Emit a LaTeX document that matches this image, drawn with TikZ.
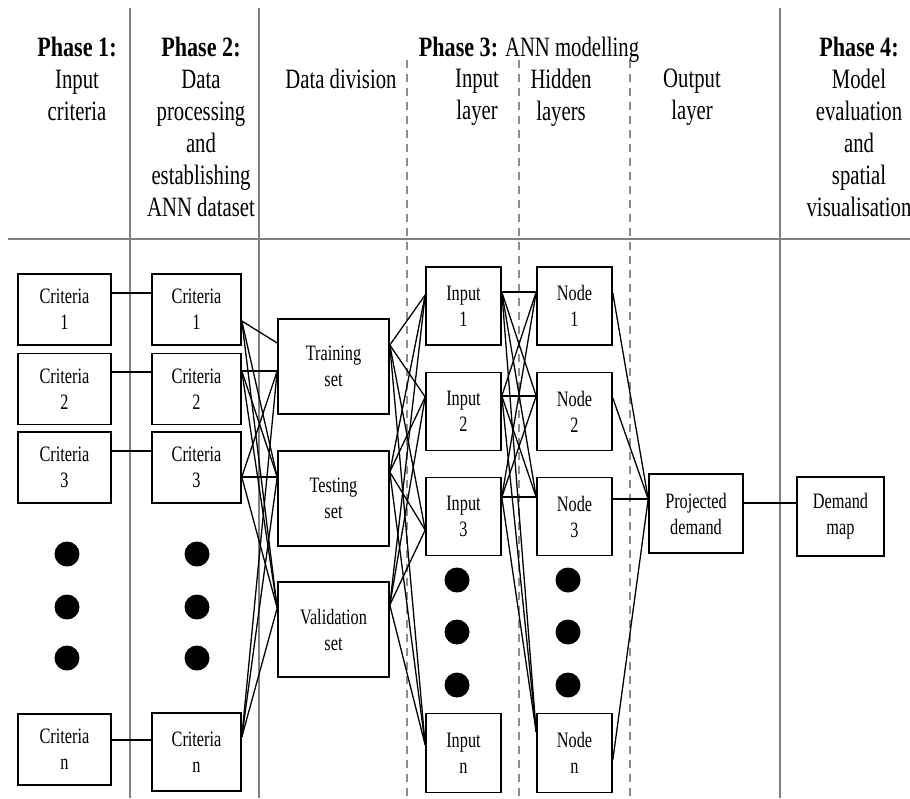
\documentclass[tikz,border=0pt]{standalone}
\usepackage{fontspec}
\setmainfont{Liberation Serif}[FakeStretch=0.74, BoldFeatures={FakeStretch=0.79}]
\usetikzlibrary{calc}
\begin{document}
\begin{tikzpicture}[x=1pt,y=-1pt,
  sep/.style={draw=black!50, line width=1.2pt},
  dsep/.style={draw=black!45, line width=1.1pt, dash pattern=on 8pt off 6pt},
  hdr/.style={align=center, inner sep=0pt, font=\fontsize{28}{32}\selectfont},
  box/.style={draw=black, line width=1.6pt, align=center, inner sep=0pt,
    font=\fontsize{22}{26}\selectfont},
  conn/.style={draw=black, line width=1.3pt},
  blob/.style={circle, fill=black, minimum size=25pt, inner sep=0pt}]
\useasboundingbox (0,0) rectangle (910,798);
\fill[white] (0,0) rectangle (910,798);
% separators
\draw[sep] (130,8) -- (130,798);
\draw[sep] (259,8) -- (259,798);
\draw[sep] (780,8) -- (780,798);
\draw[sep] (8,239) -- (910,239);
\draw[dsep] (407,60) -- (407,798);
\draw[dsep] (519,60) -- (519,798);
\draw[dsep] (630,60) -- (630,798);
% headers
\node[hdr, anchor=north] (h1) at (77,37) {\textbf{Phase 1:}\\Input\\criteria};
\node[hdr, anchor=north] (h2) at (201,37) {\textbf{Phase 2:}\\Data\\processing\\and\\establishing\\ANN dataset};
\node[hdr, anchor=north] (h3) at (529,37) {\textbf{Phase 3:} ANN modelling};
\node[hdr, anchor=north] (h3a) at (341,69) {Data division};
\node[hdr, anchor=north] (h3b) at (477,69) {Input\\layer};
\node[hdr, anchor=north] (h3c) at (561,69) {Hidden\\layers};
\node[hdr, anchor=north] (h3d) at (692,69) {Output\\layer};
\node[hdr, anchor=north] (h4) at (859,37) {\textbf{Phase 4:}\\Model\\evaluation\\and\\spatial\\visualisation};
% column 1
\node[box, minimum width=93pt, minimum height=71pt] (c11) at (64.5,309.5) {Criteria\\1};
\node[box, minimum width=93pt, minimum height=71pt] (c12) at (64.5,389) {Criteria\\2};
\node[box, minimum width=93pt, minimum height=71pt] (c13) at (64.5,467.5) {Criteria\\3};
\node[box, minimum width=93pt, minimum height=71pt] (c1n) at (64.5,749.5) {Criteria\\n};
% column 2
\node[box, minimum width=89pt, minimum height=71pt] (c21) at (196.5,309.5) {Criteria\\1};
\node[box, minimum width=89pt, minimum height=71pt] (c22) at (196.5,389) {Criteria\\2};
\node[box, minimum width=89pt, minimum height=71pt] (c23) at (196.5,467.5) {Criteria\\3};
\node[box, minimum width=89pt, minimum height=78pt] (c2n) at (196.5,752) {Criteria\\n};
% data division
\node[box, minimum width=111pt, minimum height=95pt] (tr) at (333.5,366.5) {Training\\set};
\node[box, minimum width=111pt, minimum height=95pt] (te) at (333.5,498.5) {Testing\\set};
\node[box, minimum width=111pt, minimum height=95pt] (va) at (333.5,629.5) {Validation\\set};
% input layer
\node[box, minimum width=75pt, minimum height=78pt] (i1) at (463.5,306) {Input\\1};
\node[box, minimum width=75pt, minimum height=78pt] (i2) at (463.5,411.5) {Input\\2};
\node[box, minimum width=75pt, minimum height=78pt] (i3) at (463.5,516.5) {Input\\3};
\node[box, minimum width=75pt, minimum height=79pt] (in) at (463.5,753) {Input\\n};
% hidden layer
\node[box, minimum width=75pt, minimum height=78pt] (n1) at (574.5,306) {Node\\1};
\node[box, minimum width=75pt, minimum height=78pt] (n2) at (574.5,411.5) {Node\\2};
\node[box, minimum width=75pt, minimum height=78pt] (n3) at (574.5,516.5) {Node\\3};
\node[box, minimum width=75pt, minimum height=79pt] (nn) at (574.5,753) {Node\\n};
% output
\node[box, minimum width=94pt, minimum height=79pt] (pd) at (696,513.5) {Projected\\demand};
\node[box, minimum width=87pt, minimum height=79pt] (dm) at (840.5,516.5) {Demand\\map};
% dots
\foreach \y [count=\k] in {554,607,658}{
  \node[blob] (da\k) at (67,\y) {};
  \node[blob] (db\k) at (197,\y) {};
}
\foreach \y [count=\k] in {580,632,685}{
  \node[blob] (dc\k) at (457,\y) {};
  \node[blob] (dd\k) at (568,\y) {};
}
% column 1 -> column 2
\foreach \a/\b/\y in {c11/c21/293, c12/c22/372, c13/c23/451, c1n/c2n/740}{
  \draw[conn] (\a.east |- 0,\y) -- (\b.west |- 0,\y);
}
% criteria -> sets
\draw[conn] (c21.east |- 0,321) -- (tr.west |- 0,343);
\foreach \c/\cy in {c22/371, c23/477, c2n/737}{
  \draw[conn] (\c.east |- 0,\cy) -- (tr.west |- 0,371);
}
\foreach \c/\cy in {c21/321, c22/371, c23/477, c2n/737}{
  \draw[conn] (\c.east |- 0,\cy) -- (te.west |- 0,477);
  \draw[conn] (\c.east |- 0,\cy) -- (va.west |- 0,608);
}
% sets -> inputs
\foreach \s/\sy in {tr/345, te/472, va/605}{
  \foreach \i/\iy in {i1/295, i2/397, i3/530, in/745}{
    \draw[conn] (\s.east |- 0,\sy) -- (\i.west |- 0,\iy);
  }
}
% inputs -> nodes
\foreach \i/\iy in {i1/292, i2/396, i3/497}{
  \foreach \n/\ny in {n1/292, n2/396, n3/497, nn/732}{
    \draw[conn] (\i.east |- 0,\iy) -- (\n.west |- 0,\ny);
  }
}
% nodes -> projected demand
\foreach \n/\ny in {n1/293, n2/398, n3/499, nn/760}{
  \draw[conn] (\n.east |- 0,\ny) -- (pd.west |- 0,499);
}
\draw[conn] (pd.east |- 0,503) -- (dm.west |- 0,503);
\end{tikzpicture}
\end{document}
